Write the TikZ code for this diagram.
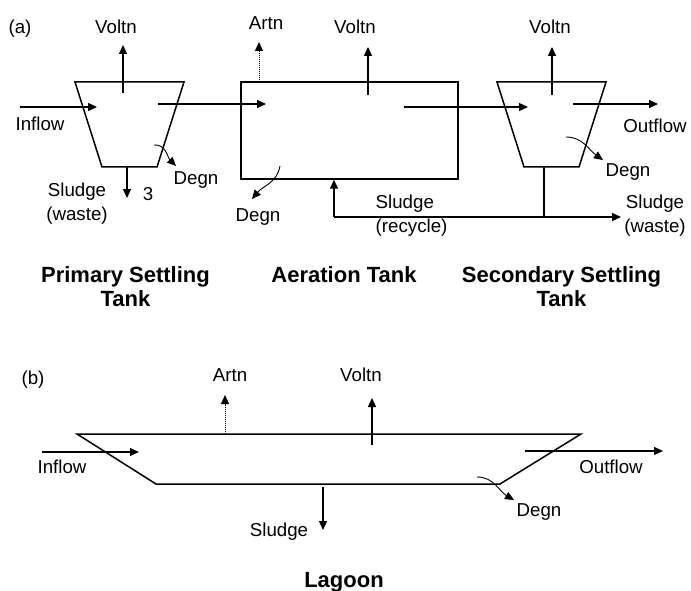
\documentclass[tikz,border=0pt]{standalone}
\usepackage{fontspec}
\setmainfont{Liberation Sans}
\usetikzlibrary{arrows.meta}
\begin{document}
\begin{tikzpicture}[x=1pt,y=-1pt,
  line width=1.4pt,
  tank/.style={line width=1.5pt, line join=miter},
  arr/.style={-{Triangle[length=9pt,width=8pt]}},
  dotarr/.style={-{Triangle[length=9pt,width=8pt]}, dash pattern=on 1pt off 1pt, line width=1pt},
  curv/.style={-{Triangle[length=9pt,width=8pt]}, line width=0.9pt},
  lbl/.style={inner sep=0pt, font=\fontsize{18.7}{24}\selectfont, align=center},
  ttl/.style={inner sep=0pt, font=\fontsize{22}{24}\selectfont\bfseries, align=center}]
\useasboundingbox (0,0) rectangle (691,591);

% ---------- (a) ----------
\node[lbl] (la) at (20,29) {(a)};

% primary settling tank
\coordinate (p1) at (75,82);
\coordinate (p2) at (184,82);
\coordinate (p3) at (157,167);
\coordinate (p4) at (102,167);
\draw[tank] (p1) -- (p2) -- (p3) -- (p4) -- cycle;

\coordinate (pvs) at (123,93);
\coordinate (pvt) at (123,45);
\draw[arr] (pvs) -- (pvt);
\node[lbl] (pvl) at (116,27) {Voltn};

\coordinate (ins) at (20,107);
\coordinate (int) at (97,107);
\draw[arr] (ins) -- (int);
\node[lbl] (inl) at (40,124) {Inflow};

\coordinate (pds) at (154,145);
\coordinate (pdt) at (176,166);
\draw[curv] (pds) to[out=5,in=135] (pdt);
\node[lbl] (pdl) at (196,180) {Degn};

\coordinate (pss) at (127,167);
\coordinate (pst) at (127,198);
\draw[arr] (pss) -- (pst);
\node[lbl] (p3l) at (148,194) {3};
\node[lbl] (psl) at (77,204) {Sludge\\(waste)};

\node[ttl] (ptl) at (125.5,287) {Primary Settling\\Tank};

% aeration tank
\node[draw, tank, minimum width=217pt, minimum height=97pt, inner sep=0pt] (aer) at (349.5,130.5) {};

\coordinate (pas) at (158,104);
\coordinate (pat) at (266,104);
\draw[arr] (pas) -- (pat);

\coordinate (aas) at (259,82);
\coordinate (aat) at (259,42);
\draw[dotarr] (aas) -- (aat);
\node[lbl] (aal) at (266,23) {Artn};

\coordinate (avs) at (368,95);
\coordinate (avt) at (368,47);
\draw[arr] (avs) -- (avt);
\node[lbl] (avl) at (355,27) {Voltn};

\coordinate (ads) at (280,166);
\coordinate (adt) at (252,199);
\draw[curv] (ads) to[out=-100,in=50] (adt);
\node[lbl] (adl) at (258,217) {Degn};

\node[ttl] (atl) at (344,275) {Aeration Tank};

% secondary settling tank
\coordinate (s1) at (497,82);
\coordinate (s2) at (606,82);
\coordinate (s3) at (579,167);
\coordinate (s4) at (524,167);
\draw[tank] (s1) -- (s2) -- (s3) -- (s4) -- cycle;

\coordinate (ass) at (404,107);
\coordinate (ast) at (528,107);
\draw[arr] (ass) -- (ast);

\coordinate (svs) at (552,95);
\coordinate (svt) at (552,47);
\draw[arr] (svs) -- (svt);
\node[lbl] (svl) at (550,27) {Voltn};

\coordinate (sos) at (573,104);
\coordinate (sot) at (658,104);
\draw[arr] (sos) -- (sot);
\node[lbl] (sol) at (655,126) {Outflow};

\coordinate (sds) at (566,137);
\coordinate (sdt) at (603,160);
\draw[curv] (sds) to[out=0,in=145] (sdt);
\node[lbl] (sdl) at (628,172) {Degn};

\coordinate (sb) at (544,167);
\coordinate (sj) at (544,217);
\coordinate (rc) at (334,217);
\coordinate (swt) at (621,217);
\draw (sb) -- (sj);
\draw[arr] (rc) -- (swt);
\draw[arr] (rc) -- (aer.south -| rc);
\node[lbl, align=left, anchor=west] (rcl) at (375,215.5) {Sludge\\(recycle)};
\node[lbl] (swl) at (655,215.5) {Sludge\\(waste)};

\node[ttl] (stl) at (561.5,287) {Secondary Settling\\Tank};

% ---------- (b) ----------
\node[lbl] (lb) at (33,380) {(b)};

\coordinate (l1) at (77,434);
\coordinate (l2) at (581,434);
\coordinate (l3) at (500,484);
\coordinate (l4) at (156,484);
\draw[tank] (l1) -- (l2) -- (l3) -- (l4) -- cycle;

\coordinate (lis) at (42,452);
\coordinate (lit) at (139,452);
\draw[arr] (lis) -- (lit);
\node[lbl] (lil) at (62,467) {Inflow};

\coordinate (las) at (225,434);
\coordinate (lat) at (225,395);
\draw[dotarr] (las) -- (lat);
\node[lbl] (lal) at (230,375) {Artn};

\coordinate (lvs) at (372,445);
\coordinate (lvt) at (372,398);
\draw[arr] (lvs) -- (lvt);
\node[lbl] (lvl) at (361,375) {Voltn};

\coordinate (los) at (525,451);
\coordinate (lot) at (663,451);
\draw[arr] (los) -- (lot);
\node[lbl] (lol) at (611,467) {Outflow};

\coordinate (lds) at (477,477);
\coordinate (ldt) at (514,500);
\draw[curv] (lds) to[out=0,in=150] (ldt);
\node[lbl] (ldl) at (539,512) {Degn};

\coordinate (lss) at (323,487);
\coordinate (lst) at (323,530);
\draw[arr] (lss) -- (lst);
\node[lbl] (lsl) at (279,532) {Sludge};

\node[ttl] (ltl) at (344,582) {Lagoon};
\end{tikzpicture}
\end{document}
